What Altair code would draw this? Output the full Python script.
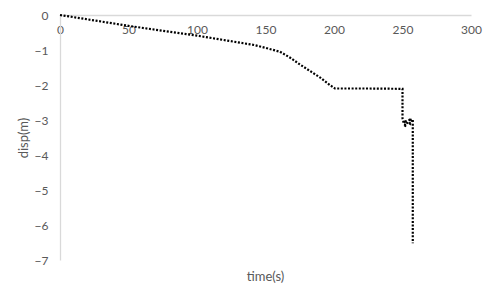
import altair as alt
import pandas as pd

time_s = [0, 50, 100, 142, 153, 160.6, 168, 175, 182.5, 190, 197, 200.7, 225, 250,
          250, 251, 252.5, 251.5, 254, 256, 255, 257.5, 257.5, 257.5]
disp_m = [0, -0.31, -0.59, -0.86, -0.97, -1.05, -1.22, -1.41, -1.6, -1.79, -2.0, -2.1, -2.1, -2.11,
          -2.95, -3.1, -3.0, -3.2, -3.05, -2.95, -3.15, -2.98, -3.2, -6.52]

df = pd.DataFrame({"t": time_s, "d": disp_m, "o": list(range(len(time_s)))})

W, H = 411, 245
grey = "#595959"
FONT = "Lato"

chart = alt.Chart(df).mark_line(
    color="black", strokeWidth=2.2, strokeDash=[2, 1.6]
).encode(
    x=alt.X("t:Q", scale=alt.Scale(domain=[0, 300], nice=False),
            axis=alt.Axis(title=None, values=[0, 50, 100, 150, 200, 250, 300],
                          orient="bottom", offset=-H, grid=False, ticks=False,
                          domainColor="#d9d9d9", domainWidth=1.3, labelFlush=False,
                          labelColor=grey, labelFont=FONT, labelFontSize=12,
                          labelPadding=9)),
    y=alt.Y("d:Q", scale=alt.Scale(domain=[-7, 0], nice=False),
            axis=alt.Axis(title="disp(m)", values=[0, -1, -2, -3, -4, -5, -6, -7],
                          grid=False, ticks=False, domainColor="#d9d9d9", domainWidth=1.3,
                          labelColor=grey, labelFont=FONT, labelFontSize=12,
                          labelPadding=12, labelFlush=False, titleColor=grey, titleFont=FONT,
                          titleFontSize=13, titleFontWeight="normal", titlePadding=4)),
    order="o:Q",
).properties(
    width=W, height=H,
    title=alt.TitleParams("time(s)", orient="bottom", anchor="middle", frame="group",
                          font=FONT, fontSize=13, fontWeight="normal", color=grey,
                          offset=5),
    autosize=alt.AutoSizeParams(type="none"),
    padding={"left": 60, "top": 15, "right": 24, "bottom": 37},
).configure_view(stroke=None)

chart.save("out.html", embed_options={"renderer": "svg", "actions": False})
